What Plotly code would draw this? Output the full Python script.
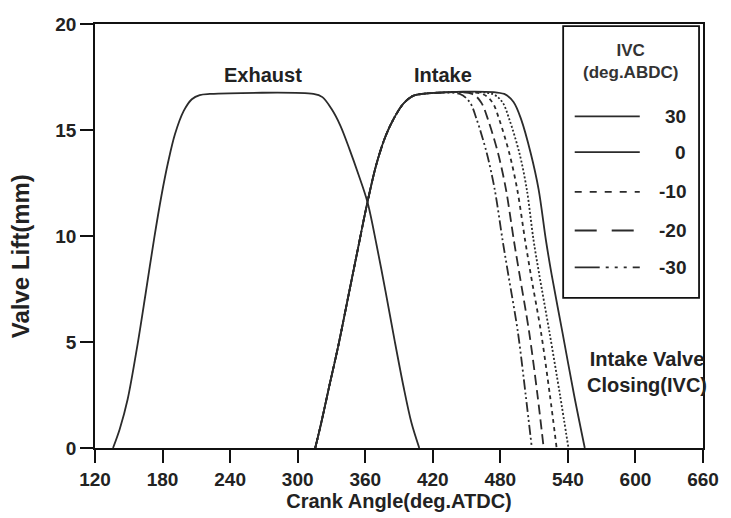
import plotly.graph_objects as go

# ---------------- data ----------------
exhaust_x = [136, 142, 149, 158, 165, 172.6, 179, 185, 191, 198.8, 206, 213, 222,
             314, 322, 330, 338, 346, 354, 362, 370, 378, 386, 394, 401, 408]
exhaust_y = [0, 0.9, 2.3, 4.95, 7.3, 9.9, 11.9, 13.5, 14.8, 15.9, 16.45, 16.65, 16.7,
             16.7, 16.55, 16.0, 15.2, 14.1, 12.9, 11.6, 9.6, 7.4, 5.1, 2.9, 1.2, 0]

intake_rise_x = [315.6, 321, 328, 336, 344, 352, 362, 370, 378, 386, 394, 402, 410]
intake_rise_y = [0, 1.2, 2.9, 4.8, 6.9, 9.0, 11.6, 13.4, 14.7, 15.6, 16.25, 16.6, 16.7]

# closing (falling) flank of the intake curve, one list per IVC timing
intake_fall_y = [16.7, 16.3, 15.5, 13.9, 12.2, 9.8, 8.2, 5.5, 2.5, 0]
ivc_labels = ["30", "0", "-10", "-20", "-30"]
intake_fall_x = {
    "30":  [483.5, 492, 498.5, 507, 514, 520.5, 525.5, 535, 545.5, 555],
    "0":   [473, 482, 488, 497, 503.5, 509.5, 514.5, 523.5, 533, 540.5],
    "-10": [464, 473, 479, 488, 495, 502, 507, 516, 524, 530],
    "-20": [455, 463, 469, 478, 485, 492, 497, 505.5, 513, 518.5],
    "-30": [444, 453, 459, 468, 475, 482, 487, 495.5, 502.5, 508],
}

x_ticks = [120, 180, 240, 300, 360, 420, 480, 540, 600, 660]
y_ticks = [0, 5, 10, 15, 20]

# ---------------- styling ----------------
LINE = "#2b2b2b"
FONT = "Liberation Sans, Arial, sans-serif"
plot_dash = {"30": "solid", "0": "2px,2px", "-10": "4px,4px",
             "-20": "10px,5px", "-30": "10px,3px,2px,3px,2px,3px"}
legend_dash = {"30": "solid", "0": "solid", "-10": "7px,8px",
               "-20": "22px,15px", "-30": "25px,6px,3px,6px,3px,6px,3px,6px"}

fig = go.Figure()

fig.add_trace(go.Scatter(x=exhaust_x, y=exhaust_y, mode="lines",
                         line=dict(color=LINE, width=1.8, shape="spline", smoothing=0.9),
                         showlegend=False, hoverinfo="skip"))

for lab in ivc_labels:
    xs = intake_rise_x + intake_fall_x[lab]
    ys = intake_rise_y + intake_fall_y
    fig.add_trace(go.Scatter(x=xs, y=ys, mode="lines", name=lab,
                             line=dict(color=LINE, width=1.8, dash=plot_dash[lab],
                                       shape="spline", smoothing=0.9),
                             showlegend=False, hoverinfo="skip"))

# ---------------- custom legend box ----------------
shapes = [dict(type="rect", xref="paper", yref="paper", x0=0.770, x1=0.9935,
               y0=0.354, y1=0.995, line=dict(color="#111", width=1.8),
               fillcolor="white", layer="below")]
annotations = [dict(xref="paper", yref="paper", x=0.880, y=0.912,
                    text="<b>IVC<br>(deg.ABDC)</b>", showarrow=False, xanchor="center",
                    yanchor="middle", font=dict(family=FONT, size=17, color="#333"))]
leg_y = [0.782, 0.698, 0.604, 0.513, 0.426]
for lab, yy in zip(ivc_labels, leg_y):
    shapes.append(dict(type="line", xref="paper", yref="paper", x0=0.789, x1=0.896,
                       y0=yy, y1=yy, line=dict(color=LINE, width=1.8, dash=legend_dash[lab])))
    annotations.append(dict(xref="paper", yref="paper", x=0.976, y=yy, text="<b>%s</b>" % lab,
                            showarrow=False, xanchor="right", yanchor="middle",
                            font=dict(family=FONT, size=19, color="#222")))

# curve labels
annotations += [
    dict(x=269, y=17.6, text="<b>Exhaust</b>", showarrow=False, xanchor="center",
         yanchor="middle", font=dict(family=FONT, size=20, color="#222")),
    dict(x=429, y=17.6, text="<b>Intake</b>", showarrow=False, xanchor="center",
         yanchor="middle", font=dict(family=FONT, size=20, color="#222")),
    dict(x=610, y=3.6, text="<b>Intake Valve<br>Closing(IVC)</b>", showarrow=False,
         xanchor="center", yanchor="middle", font=dict(family=FONT, size=20, color="#222")),
    # y-axis title placed like the reference (slightly below the plot centre)
    dict(xref="paper", yref="paper", x=-0.122, y=0.452, text="<b>Valve Lift(mm)</b>",
         textangle=-90, showarrow=False, xanchor="center", yanchor="middle",
         font=dict(family=FONT, size=24, color="#222")),
]

axis_common = dict(showline=True, linecolor="#111", linewidth=1.8, mirror=True,
                   ticks="outside", ticklen=13, tickwidth=1.6, tickcolor="#111",
                   showgrid=False, zeroline=False,
                   tickfont=dict(family=FONT, size=19, color="#222"))

fig.update_layout(
    width=731, height=518,
    margin=dict(l=95, r=19, t=24, b=67),
    paper_bgcolor="white", plot_bgcolor="white",
    xaxis=dict(range=[120, 660], tickvals=x_ticks,
               ticktext=["<b>%d</b>" % v for v in x_ticks],
               title=dict(text="<b>Crank Angle(deg.ATDC)</b>", standoff=2,
                          font=dict(family=FONT, size=20, color="#222")),
               **axis_common),
    yaxis=dict(range=[0, 20], tickvals=y_ticks,
               ticktext=["<b>%d</b>" % v for v in y_ticks],
               **axis_common),
    shapes=shapes,
    annotations=annotations,
    showlegend=False,
)

fig.write_html("out.html")
